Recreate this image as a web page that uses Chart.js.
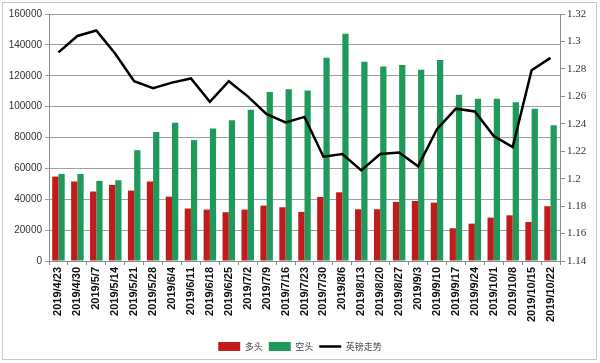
<!DOCTYPE html>
<html>
<head>
<meta charset="utf-8">
<script src="https://cdn.jsdelivr.net/npm/chart.js@4/dist/chart.umd.min.js"></script>
<style>
  html, body { margin: 0; padding: 0; background: #fff; }
  #wrap { position: relative; width: 600px; height: 363px; }
  #frame { position: absolute; left: 2px; top: 2px; width: 593px; height: 356px; border: 1px solid #c8c8c8; pointer-events: none; }
</style>
</head>
<body>
<div id="wrap">
  <canvas id="chart"></canvas>
  <div id="frame"></div>
</div>
<script>
// weekly dates
const dates = ['2019/4/23', '2019/4/30', '2019/5/7', '2019/5/14', '2019/5/21', '2019/5/28', '2019/6/4',
  '2019/6/11', '2019/6/18', '2019/6/25', '2019/7/2', '2019/7/9', '2019/7/16', '2019/7/23', '2019/7/30',
  '2019/8/6', '2019/8/13', '2019/8/20', '2019/8/27', '2019/9/3', '2019/9/10', '2019/9/17', '2019/9/24',
  '2019/10/1', '2019/10/8', '2019/10/15', '2019/10/22'];

// 多头 (long positions)
const longPos = [54700, 51500, 45000, 49300, 45600, 51500, 41700, 34000, 33300, 31600, 33300, 35900, 34800,
  31800, 41500, 44500, 33500, 33500, 38300, 38900, 37800, 21200, 24200, 28100, 29600, 25300, 35500];

// 空头 (short positions)
const shortPos = [56400, 56400, 51900, 52300, 71800, 83500, 89500, 78300, 85800, 91200, 97900, 109400, 111300,
  110500, 131700, 147200, 129100, 126000, 126900, 123900, 130200, 107700, 105100, 105100, 102900, 98600, 88000];

// 英镑走势 (GBP/USD)
const gbp = [1.292, 1.304, 1.308, 1.291, 1.271, 1.266, 1.270, 1.273, 1.256, 1.271, 1.260, 1.247, 1.241,
  1.245, 1.216, 1.218, 1.206, 1.218, 1.219, 1.209, 1.236, 1.251, 1.249, 1.231, 1.223, 1.279, 1.288];

const gridColor = '#a0a0a0';
const axisColor = '#8c8c8c';

new Chart(document.getElementById('chart'), {
  type: 'bar',
  data: {
    labels: dates,
    datasets: [
      { label: '多头', data: longPos, backgroundColor: '#c01c1c', yAxisID: 'y', order: 1,
        categoryPercentage: 0.66, barPercentage: 1.0 },
      { label: '空头', data: shortPos, backgroundColor: '#1f9a5c', yAxisID: 'y', order: 1,
        categoryPercentage: 0.66, barPercentage: 1.0 },
      { type: 'line', label: '英镑走势', data: gbp, yAxisID: 'y2', order: 0,
        borderColor: '#000', backgroundColor: '#000', borderWidth: 2.5, pointRadius: 0,
        tension: 0, fill: false }
    ]
  },
  options: {
    responsive: true,
    maintainAspectRatio: false,
    animation: false,
    layout: { padding: { top: 14, left: 0, right: 0, bottom: 2 } },
    plugins: {
      tooltip: { enabled: false },
      legend: {
        position: 'bottom',
        labels: {
          usePointStyle: true,
          pointStyleWidth: 22,
          boxHeight: 9,
          padding: 6,
          color: '#444',
          font: { family: '"Noto Sans CJK SC", sans-serif', size: 9 },
          sort: (a, b) => a.datasetIndex - b.datasetIndex,
          generateLabels: (chart) => {
            const items = Chart.defaults.plugins.legend.labels.generateLabels(chart);
            items.forEach(it => {
              const ds = chart.data.datasets[it.datasetIndex];
              if (ds.type === 'line') {
                it.pointStyle = 'line';
                it.lineWidth = 2.5;
                it.strokeStyle = '#000';
              } else {
                it.pointStyle = 'rect';
                it.lineWidth = 0;
              }
            });
            return items;
          }
        }
      }
    },
    scales: {
      x: {
        offset: true,
        grid: { offset: true, drawOnChartArea: false, drawTicks: true, tickLength: 4, color: axisColor },
        border: { color: axisColor },
        ticks: {
          autoSkip: false, minRotation: 90, maxRotation: 90, padding: 2,
          color: '#111', font: { family: '"Liberation Sans", Arial, sans-serif', size: 11, weight: 'bold' }
        },
        afterFit: (scale) => {
          const lg = scale.chart.legend;
          scale.height = 363 - 261 - (lg ? lg.height : 0) - 2;
        }
      },
      y: {
        position: 'left',
        min: 0, max: 160000,
        grid: { color: gridColor, drawTicks: true, tickLength: 4 },
        border: { color: axisColor },
        ticks: {
          stepSize: 20000, padding: 3, color: '#333',
          font: { family: '"Liberation Sans", Arial, sans-serif', size: 10 },
          callback: (v) => String(v)
        },
        afterFit: (scale) => { scale.width = 49; }
      },
      y2: {
        position: 'right',
        min: 1.14, max: 1.32,
        grid: { drawOnChartArea: false, drawTicks: true, tickLength: 5, color: axisColor },
        border: { color: axisColor },
        ticks: {
          stepSize: 0.02, padding: 2, color: '#333',
          font: { family: '"Liberation Serif", "DejaVu Serif", serif', size: 11 },
          callback: (v) => String(+v.toFixed(2))
        },
        afterFit: (scale) => { scale.width = 40; }
      }
    }
  }
});
</script>
</body>
</html>
